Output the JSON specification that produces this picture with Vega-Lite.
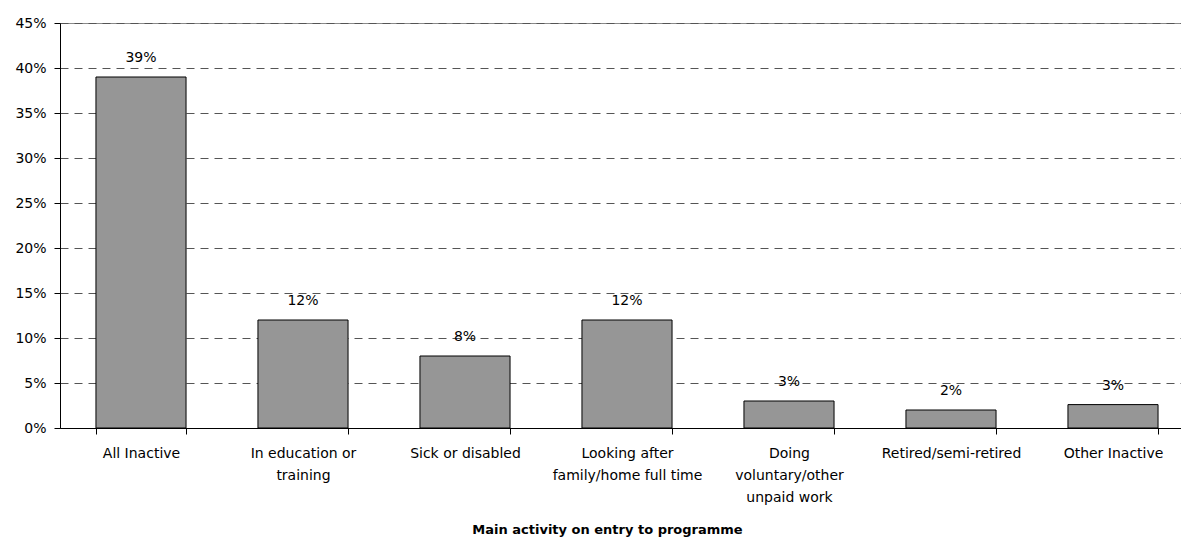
{
  "$schema": "https://vega.github.io/schema/vega-lite/v6.json",
  "autosize": "none",
  "padding": {"left": 60, "top": 23, "right": 0, "bottom": 119},
  "width": 1134,
  "height": 405,
  "background": "white",
  "config": {
    "font": "DejaVu Sans",
    "view": {"stroke": "#8a8a8a", "strokeWidth": 1}
  },
  "data": {
    "values": [
      {"activity": "All Inactive", "share": 0.39},
      {"activity": "In education or training", "share": 0.12},
      {"activity": "Sick or disabled", "share": 0.08},
      {"activity": "Looking after family/home full time", "share": 0.12},
      {"activity": "Doing voluntary/other unpaid work", "share": 0.03},
      {"activity": "Retired/semi-retired", "share": 0.02},
      {"activity": "Other Inactive", "share": 0.026}
    ]
  },
  "encoding": {
    "x": {
      "field": "activity",
      "type": "nominal",
      "sort": null,
      "scale": {"paddingInner": 0.444, "paddingOuter": 0.222},
      "axis": {
        "title": "Main activity on entry to programme",
        "titleFont": "DejaVu Sans",
        "titleFontSize": 13,
        "titleFontWeight": "bold",
        "titleColor": "black",
        "titleX": 547,
        "titleY": 105,
        "titleAlign": "center",
        "titleBaseline": "alphabetic",
        "labelAngle": 0,
        "labelFontSize": 14,
        "labelColor": "black",
        "labelLineHeight": 22,
        "labelPadding": 12,
        "labelExpr": "datum.value == 'In education or training' ? ['In education or', 'training'] : datum.value == 'Looking after family/home full time' ? ['Looking after', 'family/home full time'] : datum.value == 'Doing voluntary/other unpaid work' ? ['Doing', 'voluntary/other', 'unpaid work'] : datum.value",
        "tickBand": "extent",
        "tickSize": 6,
        "tickColor": "black",
        "domainColor": "black",
        "grid": false
      }
    },
    "y": {
      "field": "share",
      "type": "quantitative",
      "scale": {"domain": [0, 0.45], "nice": false},
      "axis": {
        "title": null,
        "format": ".0%",
        "values": [0, 0.05, 0.1, 0.15, 0.2, 0.25, 0.3, 0.35, 0.4, 0.45],
        "labelFontSize": 14,
        "labelColor": "black",
        "labelPadding": 8,
        "tickSize": 6,
        "tickColor": "black",
        "domainColor": "black",
        "grid": true,
        "gridColor": "#555555",
        "gridDash": [8, 6],
        "gridWidth": 1
      }
    }
  },
  "layer": [
    {
      "mark": {"type": "bar", "fill": "#969696", "stroke": "black", "strokeWidth": 1}
    },
    {
      "mark": {"type": "text", "baseline": "bottom", "dy": -12, "fontSize": 14, "color": "black"},
      "encoding": {
        "text": {"field": "share", "type": "quantitative", "format": ".0%"}
      }
    }
  ]
}
